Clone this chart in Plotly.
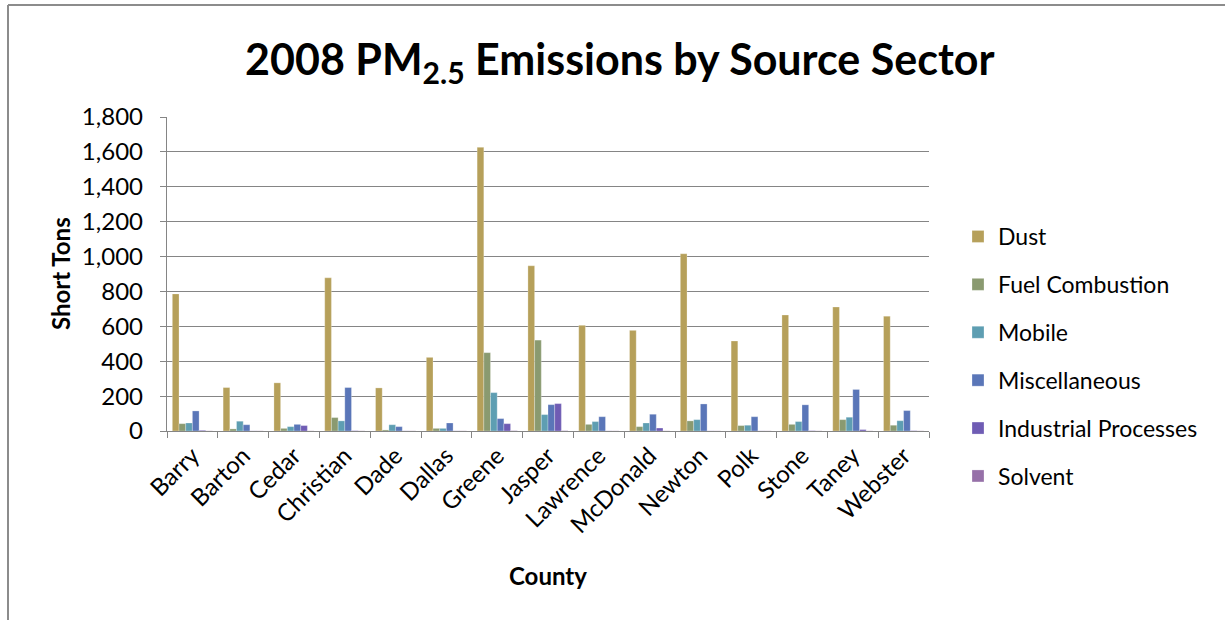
import plotly.graph_objects as go

# PM2.5 emissions (short tons) by county and source sector, 2008
counties = ["Barry", "Barton", "Cedar", "Christian", "Dade", "Dallas", "Greene",
            "Jasper", "Lawrence", "McDonald", "Newton", "Polk", "Stone", "Taney",
            "Webster"]
dust = [786, 249, 276, 878, 247, 422, 1626, 947, 606, 577, 1016, 516, 665, 711, 658]
fuel_combustion = [42, 12, 15, 77, 6, 15, 449, 521, 38, 25, 58, 31, 38, 65, 33]
mobile = [46, 56, 25, 58, 36, 15, 220, 94, 54, 46, 65, 33, 54, 79, 59]
miscellaneous = [115, 36, 38, 249, 25, 46, 71, 151, 82, 96, 155, 82, 150, 238, 117]
industrial = [4, 1, 31, 2, 1, 1, 42, 157, 1, 17, 1, 1, 2, 8, 2]
solvent = [1, 1, 1, 1, 1, 1, 2, 2, 1, 1, 1, 1, 1, 1, 1]

series = [
    ("Dust", dust, "#B6A05A"),
    ("Fuel Combustion", fuel_combustion, "#8A9A70"),
    ("Mobile", mobile, "#5E9EB2"),
    ("Miscellaneous", miscellaneous, "#5A76B8"),
    ("Industrial Processes", industrial, "#6F5CB4"),
    ("Solvent", solvent, "#9670A8"),
]

W, H = 1225, 620
ML, MR, MT, MB = 167, 296, 117, 189
PW, PH = W - ML - MR, H - MT - MB


def px_x(x):
    return (x - ML) / PW


def px_y(y):
    return (H - MB - y) / PH


FONT = "Lato"
GRID = "#858585"

fig = go.Figure()
for i, (name, vals, color) in enumerate(series):
    fig.add_trace(go.Bar(
        x=counties, y=vals, name=name, legendgroup=f"g{i}",
        marker=dict(color=color, line=dict(color="rgba(255,255,255,0.45)", width=0.6)),
    ))

fig.update_layout(
    width=W, height=H,
    margin=dict(l=ML, r=MR, t=MT, b=MB, autoexpand=False),
    paper_bgcolor="white", plot_bgcolor="white",
    barmode="group", bargap=0.21, bargroupgap=0,
    font=dict(family=FONT, color="black", size=24),
    title=dict(
        text="2008 PM<sub>2.5</sub> Emissions by Source Sector",
        font=dict(family=FONT, size=43, color="black", weight="bold"),
        x=0.506, xanchor="center", xref="container",
        y=1 - 60 / H, yanchor="middle", yref="container",
    ),
    legend=dict(
        x=px_x(958), xanchor="left", y=px_y(215), yanchor="top",
        font=dict(family=FONT, size=23, color="black"),
        tracegroupgap=15, bgcolor="rgba(0,0,0,0)",
    ),
    xaxis=dict(
        tickangle=-45, tickson="boundaries", ticks="outside", ticklen=6,
        tickcolor=GRID, tickwidth=1.4, showline=True, linecolor=GRID, linewidth=1.4,
        showgrid=False, tickfont=dict(family=FONT, size=24),
    ),
    yaxis=dict(
        range=[0, 1800], dtick=200, tickformat=",", ticks="outside", ticklen=6,
        tickcolor=GRID, tickwidth=1.4, showline=True, linecolor=GRID, linewidth=1.4,
        showgrid=True, gridcolor=GRID, gridwidth=1.4, zeroline=False,
        tickfont=dict(family=FONT, size=24), ticklabelstandoff=12,
    ),
    annotations=[
        dict(text="<b>Short Tons</b>", textangle=-90, xref="paper", yref="paper",
             x=px_x(60), y=0.5, xanchor="center", yanchor="middle", showarrow=False,
             font=dict(family=FONT, size=24)),
        dict(text="<b>County</b>", xref="paper", yref="paper",
             x=0.5, y=px_y(575), xanchor="center", yanchor="middle", showarrow=False,
             font=dict(family=FONT, size=24)),
    ],
    shapes=[
        dict(type="line", xref="paper", yref="paper", x0=px_x(8), x1=px_x(8),
             y0=px_y(5), y1=px_y(H + 5), line=dict(color="#8C8C8C", width=2)),
        dict(type="line", xref="paper", yref="paper", x0=px_x(8), x1=px_x(W + 5),
             y0=px_y(5), y1=px_y(5), line=dict(color="#8C8C8C", width=2)),
    ],
)

fig.write_html("out.html")
